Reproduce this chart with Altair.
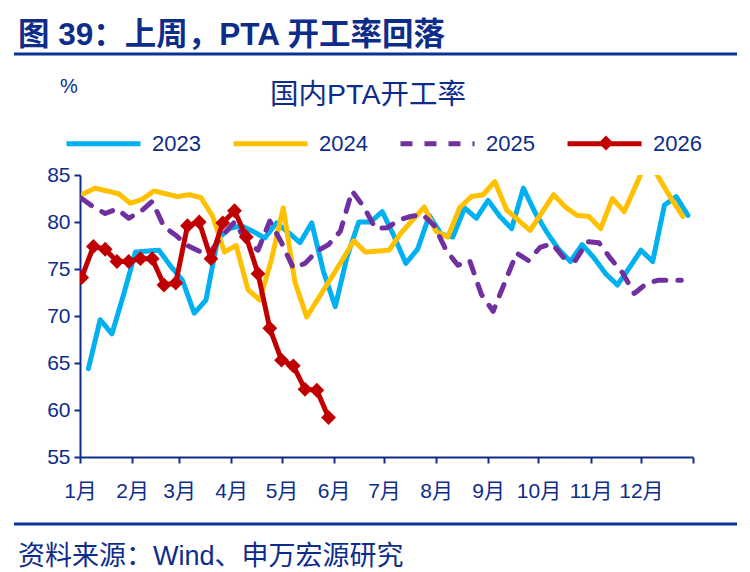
import altair as alt
import pandas as pd

# ---------------- data ----------------
years = ["2023", "2024", "2025", "2026"]
start_dates = ["2023-01-06", "2024-01-03", "2025-01-02", "2026-01-02"]

v2023 = [64.4, 69.6, 68.1, 72.3, 76.8, 76.9, 77.0, 75.3, 73.8, 70.3,
         71.7, 78.2, 79.3, 79.6, 79.0, 78.3, 79.9, 78.9, 77.8, 79.9,
         74.7, 71.0, 76.3, 80.0, 80.0, 81.1, 78.5, 75.6, 77.1, 80.7,
         78.7, 78.4, 81.5, 80.4, 82.3, 80.6, 79.3, 83.6, 81.0, 78.9,
         77.1, 75.8, 77.6, 76.2, 74.5, 73.3, 75.1, 77.0, 75.8, 81.8,
         82.7, 80.7]
v2024 = [83.0, 83.6, 83.3, 83.0, 82.0, 82.4, 83.3, 83.0, 82.7, 82.9,
         82.6, 80.6, 76.8, 77.5, 72.8, 71.7, 76.0, 81.5, 73.6, 69.9,
         71.9, 73.9, 75.9, 78.0, 76.8, 76.9, 77.0, 78.8, 80.2, 81.6,
         79.0, 78.4, 81.5, 82.7, 82.9, 84.3, 81.3, 80.2, 79.1, 81.0,
         82.9, 81.6, 80.7, 80.6, 79.3, 82.5, 81.1, 83.9, 86.7, 84.6,
         82.5, 80.6]
v2025 = [82.5, 81.6, 80.9, 81.4, 80.4, 81.1, 82.2, 79.5, 78.6, 77.5,
         76.9, 76.9, 78.6, 80.0, 78.0, 77.0, 80.1, 77.8, 75.1, 75.6,
         76.9, 77.6, 79.0, 83.3, 81.6, 79.3, 79.4, 80.2, 80.6, 80.8,
         79.6, 77.0, 75.4, 75.9, 72.3, 70.5, 73.6, 76.7, 75.9, 77.3,
         77.7, 76.2, 75.9, 77.9, 77.8, 76.1, 74.6, 72.4, 73.4, 73.8,
         73.8, 73.8]
v2026 = [74.1, 77.4, 77.1, 75.8, 75.8, 76.1, 76.1, 73.3, 73.5, 79.6,
         80.0, 76.1, 79.9, 81.2, 78.4, 74.5, 68.7, 65.3, 64.7, 62.2,
         62.1, 59.2]

series_values = [v2023, v2024, v2025, v2026]
colors = ["#00B0F0", "#FFC000", "#7030A0", "#C00000"]
dashes = [[1, 0], [1, 0], [12, 12], [1, 0]]
y_ticks = [55, 60, 65, 70, 75, 80, 85]

title_text = "图 39：上周，PTA 开工率回落"
chart_title = "国内PTA开工率"
unit_text = "%"
source_text = "资料来源：Wind、申万宏源研究"

# ---------------- build table ----------------
rows = []
for yr, sd, vals in zip(years, start_dates, series_values):
    dates = pd.date_range(sd, periods=len(vals), freq="7D")
    y0 = pd.Timestamp(f"{yr}-01-01")
    for i, (d, v) in enumerate(zip(dates, vals)):
        rows.append({"year": yr, "day": (d - y0).days, "value": v, "idx": i})
df = pd.DataFrame(rows)

month_starts = pd.date_range("2023-01-01", periods=13, freq="MS")
month_ticks = [int((m - pd.Timestamp("2023-01-01")).days) for m in month_starts]

NAVY = "#0E2D8A"
FONT = "Liberation Sans, Noto Sans CJK SC"
MARKER_SIZE = 220

legend = alt.Legend(
    title=None, orient="none", legendX=-16, legendY=-71,
    direction="horizontal", symbolType="stroke", symbolSize=5476,
    symbolStrokeWidth=5, labelFontSize=22, labelFont=FONT,
    labelColor=NAVY, labelOffset=9, columnPadding=22, padding=0,
)

x_enc = alt.X("day:Q",
              scale=alt.Scale(domain=[0, 365], nice=False, zero=False),
              axis=alt.Axis(values=month_ticks, title=None, grid=False,
                            labelExpr="datum.value >= 365 ? '' : (month(datetime(2023, 0, 1 + datum.value)) + 1) + '月'",
                            labelFontSize=21, labelFont=FONT, labelColor=NAVY,
                            labelPadding=17, tickSize=6, tickWidth=2, tickColor=NAVY,
                            domainColor=NAVY, domainWidth=2, labelFlush=False,
                            labelOverlap=False))
y_enc = alt.Y("value:Q",
              scale=alt.Scale(domain=[55, 85], nice=False, zero=False),
              axis=alt.Axis(values=y_ticks, title=None, grid=False,
                            labelFontSize=21, labelFont=FONT, labelColor=NAVY,
                            labelPadding=4, tickSize=6, tickWidth=2, tickColor=NAVY,
                            domainColor=NAVY, domainWidth=2))

lines = alt.Chart(df).mark_line(strokeWidth=5, clip=True, strokeCap="round", strokeJoin="round").encode(
    x=x_enc, y=y_enc,
    color=alt.Color("year:N", scale=alt.Scale(domain=years, range=colors), legend=legend),
    strokeDash=alt.StrokeDash("year:N", scale=alt.Scale(domain=years, range=dashes), legend=legend),
    order="idx:Q",
    detail="year:N",
)

marker_legend = alt.Legend(
    title=None, orient="none", legendX=518.5, legendY=-39.5, padding=0,
    labelExpr="''", labelFontSize=1, labelOffset=0,
    symbolFillColor=colors[-1], symbolStrokeColor=colors[-1], symbolSize=MARKER_SIZE,
    symbolStrokeWidth=0,
)

pts = alt.Chart(df).transform_filter(alt.datum.year == years[-1]).transform_calculate(
    marker="datum.year"
).mark_point(
    filled=True, size=MARKER_SIZE, opacity=1, color=colors[-1], clip=True
).encode(
    x="day:Q", y="value:Q",
    shape=alt.Shape("marker:N", scale=alt.Scale(domain=[years[-1]], range=["diamond"]),
                    legend=marker_legend),
)

def text_layer(txt, x, y, size, bold=False, align="left"):
    return alt.Chart(pd.DataFrame({"t": [txt]})).mark_text(
        align=align, baseline="middle", fontSize=size, font=FONT,
        fontWeight="bold" if bold else "normal", color=NAVY
    ).encode(text="t:N", x=alt.value(x), y=alt.value(y))

title = text_layer(title_text, -62, -139, 31.5, bold=True)
ctitle = text_layer(chart_title, 288, -80, 28.5, align="center")
unit = text_layer(unit_text, -11, -88, 20, align="center")
source = text_layer(source_text, -62, 382, 27)

rule_df = pd.DataFrame({"k": [0]})
rule_top = alt.Chart(rule_df).mark_rule(color="#0A3296", strokeWidth=3).encode(
    x=alt.value(-66), x2=alt.value(657), y=alt.value(-121))
rule_bot = alt.Chart(rule_df).mark_rule(color="#0A3296", strokeWidth=3).encode(
    x=alt.value(-66), x2=alt.value(657), y=alt.value(349))

chart = alt.layer(lines, pts, title, ctitle, unit, source, rule_top, rule_bot).properties(
    width=613, height=282,
    padding={"left": 80, "top": 175, "right": 57, "bottom": 115},
    autosize=alt.AutoSizeParams(type="none"),
    background="white",
).configure_view(stroke=None)

chart.save("out.html", embed_options={"renderer": "svg", "actions": False})
